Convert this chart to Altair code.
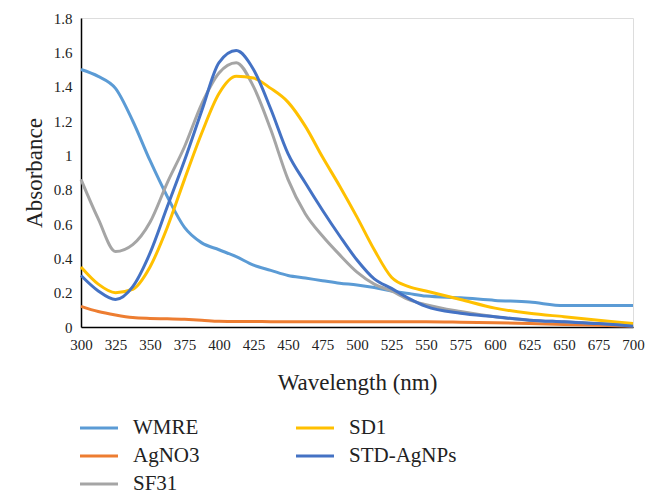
import altair as alt
import pandas as pd

wavelength = [300, 312.5, 325, 337.5, 350, 362.5, 375, 387.5, 400, 412.5, 425, 437.5,
              450, 462.5, 475, 487.5, 500, 512.5, 525, 537.5, 550, 575, 600, 625, 650, 675, 700]

wmre = [1.50, 1.46, 1.39, 1.20, 0.97, 0.76, 0.58, 0.49, 0.45, 0.41, 0.36, 0.33,
        0.30, 0.285, 0.27, 0.255, 0.245, 0.23, 0.21, 0.195, 0.18, 0.17, 0.155, 0.145, 0.125, 0.125, 0.125]
agno3 = [0.12, 0.09, 0.07, 0.055, 0.05, 0.048, 0.045, 0.04, 0.033, 0.032, 0.032, 0.031,
         0.031, 0.03, 0.03, 0.03, 0.03, 0.03, 0.03, 0.03, 0.03, 0.028, 0.025, 0.02, 0.015, 0.01, 0.005]
sf31 = [0.86, 0.63, 0.44, 0.48, 0.61, 0.84, 1.05, 1.30, 1.48, 1.54, 1.40, 1.15,
        0.86, 0.66, 0.53, 0.42, 0.32, 0.25, 0.21, 0.16, 0.13, 0.09, 0.06, 0.04, 0.03, 0.02, 0.01]
sd1 = [0.35, 0.25, 0.20, 0.22, 0.35, 0.58, 0.86, 1.13, 1.36, 1.46, 1.45, 1.39,
       1.31, 1.17, 0.99, 0.82, 0.64, 0.45, 0.29, 0.235, 0.21, 0.16, 0.11, 0.08, 0.06, 0.04, 0.02]
std_agnps = [0.30, 0.21, 0.16, 0.235, 0.43, 0.70, 0.97, 1.26, 1.54, 1.61, 1.50, 1.27,
             1.01, 0.84, 0.68, 0.53, 0.39, 0.28, 0.225, 0.167, 0.12, 0.08, 0.06, 0.04, 0.03, 0.02, 0.005]

series = {"WMRE": wmre, "AgNO3": agno3, "SF31": sf31, "SD1": sd1, "STD-AgNPs": std_agnps}
series_order = ["WMRE", "AgNO3", "SF31", "SD1", "STD-AgNPs"]
series_colors = ["#5B9BD5", "#ED7D31", "#A5A5A5", "#FFC000", "#4472C4"]

x_ticks = list(range(300, 701, 25))
y_ticks = [0, 0.2, 0.4, 0.6, 0.8, 1.0, 1.2, 1.4, 1.6, 1.8]

rows = []
for name, vals in series.items():
    for w, v in zip(wavelength, vals):
        rows.append({"Wavelength": w, "Absorbance": v, "Series": name})
df = pd.DataFrame(rows)

FONT = "Liberation Serif"
TXT = "#222222"

chart = alt.Chart(df).mark_line(strokeWidth=3, interpolate="monotone").encode(
    x=alt.X("Wavelength:Q",
            scale=alt.Scale(domain=[300, 700], nice=False),
            axis=alt.Axis(values=x_ticks, title="Wavelength (nm)", ticks=False, grid=False,
                          labelFont=FONT, titleFont=FONT, labelColor=TXT, titleColor=TXT,
                          labelFontSize=15, labelPadding=10, titleFontSize=23,
                          titleFontWeight="normal", domainColor="#000000", domainWidth=1.5,
                          titlePadding=19, labelFlush=False, labelOverlap=False)),
    y=alt.Y("Absorbance:Q",
            scale=alt.Scale(domain=[0, 1.8], nice=False),
            axis=alt.Axis(values=y_ticks, format="~g", title="Absorbance", ticks=False, grid=False,
                          labelFont=FONT, titleFont=FONT, labelColor=TXT, titleColor=TXT,
                          titleFontWeight="normal", domainColor="#000000", domainWidth=1.5,
                          labelFontSize=15, labelPadding=9, titleFontSize=23, titlePadding=7)),
    color=alt.Color("Series:N",
                    scale=alt.Scale(domain=series_order, range=series_colors),
                    sort=series_order,
                    legend=alt.Legend(title=None, orient="none", legendX=7, legendY=399,
                                      direction="vertical",
                                      columns=2, columnPadding=90, rowPadding=7,
                                      symbolType="M-2,0H2", symbolSize=361,
                                      symbolStrokeWidth=3, labelOffset=23,
                                      labelFontSize=21, labelFont=FONT, labelColor=TXT,
                                      padding=0)),
).properties(
    width=552, height=309,
    padding={"left": 73, "top": 10, "right": 16, "bottom": 176},
    autosize=alt.AutoSizeParams(type="none"),
).configure_view(stroke=None).configure(font=FONT)

chart.save("out.html", embed_options={"renderer": "svg", "actions": False})
